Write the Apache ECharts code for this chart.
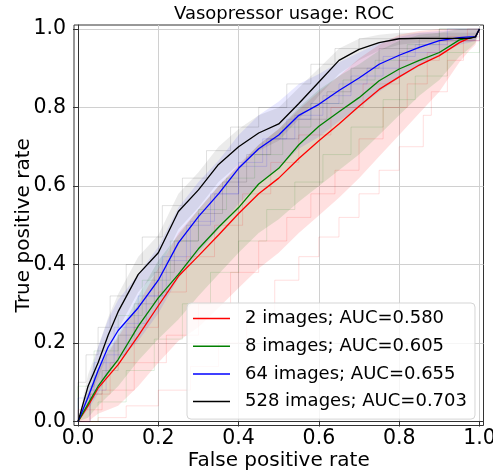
<!DOCTYPE html>
<html>
<head>
<meta charset="utf-8">
<script src="https://cdn.jsdelivr.net/npm/echarts@6/dist/echarts.min.js"></script>
<style>html,body{margin:0;padding:0;background:#fff}#c{width:493px;height:471px}</style>
</head>
<body>
<div id="c"></div>
<script>
// ---- data ----
const titleText = 'Vasopressor usage: ROC';
const xName = 'False positive rate';
const yName = 'True positive rate';
const tickValues = [0, 0.2, 0.4, 0.6, 0.8, 1.0];
const seriesNames = ['2 images; AUC=0.580', '8 images; AUC=0.605', '64 images; AUC=0.655', '528 images; AUC=0.703'];

const fpr = [0, 0.025, 0.05, 0.075, 0.1, 0.15, 0.2, 0.25, 0.3, 0.35, 0.4, 0.45, 0.5, 0.55, 0.6, 0.65, 0.7, 0.75, 0.8, 0.85, 0.9, 0.95, 0.975, 0.99, 1.0];

const tpr2   = [0, 0.04, 0.085, 0.115, 0.145, 0.218, 0.295, 0.37, 0.422, 0.475, 0.53, 0.58, 0.62, 0.67, 0.715, 0.758, 0.803, 0.846, 0.878, 0.908, 0.932, 0.965, 0.977, 0.98, 1.0];
const tpr8   = [0, 0.045, 0.09, 0.125, 0.158, 0.243, 0.315, 0.375, 0.44, 0.495, 0.545, 0.605, 0.645, 0.705, 0.752, 0.789, 0.825, 0.868, 0.898, 0.92, 0.94, 0.972, 0.977, 0.98, 1.0];
const tpr64  = [0, 0.062, 0.13, 0.19, 0.232, 0.29, 0.36, 0.455, 0.522, 0.58, 0.645, 0.695, 0.73, 0.78, 0.808, 0.843, 0.875, 0.91, 0.933, 0.953, 0.97, 0.978, 0.98, 0.98, 1.0];
const tpr528 = [0, 0.09, 0.15, 0.22, 0.28, 0.375, 0.43, 0.535, 0.59, 0.655, 0.70, 0.735, 0.758, 0.81, 0.865, 0.92, 0.948, 0.965, 0.975, 0.976, 0.976, 0.976, 0.976, 0.98, 1.0];

const low2   = [0, 0.0, 0.02, 0.03, 0.04, 0.09, 0.15, 0.205, 0.24, 0.29, 0.34, 0.39, 0.43, 0.48, 0.525, 0.57, 0.62, 0.675, 0.73, 0.785, 0.84, 0.915, 0.945, 0.96, 1.0];
const up2    = [0, 0.07, 0.13, 0.175, 0.215, 0.3, 0.39, 0.48, 0.54, 0.6, 0.655, 0.705, 0.745, 0.795, 0.84, 0.88, 0.925, 0.96, 0.985, 0.995, 1.0, 1.0, 1.0, 1.0, 1.0];
const low8   = [0, 0.01, 0.04, 0.065, 0.09, 0.155, 0.21, 0.26, 0.32, 0.375, 0.43, 0.48, 0.515, 0.56, 0.6, 0.64, 0.68, 0.73, 0.78, 0.83, 0.87, 0.93, 0.95, 0.965, 1.0];
const up8    = [0, 0.075, 0.135, 0.18, 0.22, 0.32, 0.41, 0.475, 0.54, 0.6, 0.65, 0.705, 0.745, 0.8, 0.845, 0.88, 0.91, 0.945, 0.97, 0.985, 0.99, 1.0, 1.0, 1.0, 1.0];
const low64  = [0, 0.03, 0.07, 0.12, 0.155, 0.205, 0.275, 0.365, 0.43, 0.49, 0.555, 0.605, 0.645, 0.695, 0.725, 0.765, 0.8, 0.84, 0.875, 0.905, 0.935, 0.96, 0.965, 0.97, 1.0];
const up64   = [0, 0.095, 0.19, 0.26, 0.31, 0.375, 0.445, 0.545, 0.61, 0.665, 0.73, 0.78, 0.815, 0.86, 0.885, 0.915, 0.94, 0.965, 0.98, 0.99, 0.995, 1.0, 1.0, 1.0, 1.0];
const low528 = [0, 0.06, 0.11, 0.175, 0.235, 0.33, 0.385, 0.49, 0.545, 0.61, 0.655, 0.69, 0.715, 0.77, 0.83, 0.885, 0.92, 0.945, 0.96, 0.965, 0.968, 0.968, 0.968, 0.97, 1.0];
const up528  = [0, 0.12, 0.19, 0.265, 0.325, 0.42, 0.475, 0.58, 0.635, 0.7, 0.745, 0.78, 0.8, 0.85, 0.9, 0.95, 0.975, 0.985, 0.99, 0.99, 0.99, 0.99, 0.99, 0.99, 1.0];

// a few individual (per-run) ROC step curves, [fpr, tpr]
const run2A = [[0,0],[0.05,0.01],[0.12,0.04],[0.2,0.08],[0.28,0.14],[0.35,0.2],[0.42,0.27],[0.49,0.36],[0.55,0.42],[0.6,0.47],[0.65,0.52],[0.7,0.58],[0.75,0.64],[0.8,0.7],[0.86,0.78],[0.88,0.84],[0.92,0.92],[0.96,0.97],[1,1]];
const run2B = [[0,0],[0.06,0.03],[0.14,0.08],[0.22,0.15],[0.3,0.22],[0.38,0.3],[0.45,0.38],[0.52,0.46],[0.58,0.52],[0.64,0.58],[0.7,0.64],[0.76,0.72],[0.82,0.8],[0.87,0.86],[0.92,0.94],[0.97,0.98],[1,1]];
const run2C = [[0,0],[0.03,0.07],[0.08,0.15],[0.14,0.24],[0.2,0.33],[0.27,0.42],[0.34,0.5],[0.41,0.58],[0.48,0.66],[0.55,0.73],[0.63,0.8],[0.71,0.86],[0.8,0.92],[0.9,0.97],[1,1]];
const run8A = [[0,0],[0.04,0.09],[0.1,0.18],[0.16,0.27],[0.23,0.36],[0.3,0.46],[0.37,0.54],[0.44,0.62],[0.51,0.68],[0.58,0.75],[0.66,0.81],[0.74,0.87],[0.82,0.92],[0.9,0.96],[1,1]];
const run8B = [[0,0],[0.05,0.05],[0.12,0.13],[0.19,0.21],[0.26,0.3],[0.33,0.38],[0.4,0.46],[0.47,0.54],[0.54,0.61],[0.61,0.68],[0.68,0.75],[0.76,0.82],[0.84,0.88],[0.92,0.94],[1,1]];
const run64A = [[0,0],[0.03,0.08],[0.07,0.17],[0.12,0.25],[0.17,0.32],[0.22,0.41],[0.28,0.51],[0.34,0.58],[0.4,0.66],[0.46,0.72],[0.52,0.77],[0.58,0.81],[0.65,0.86],[0.72,0.9],[0.8,0.94],[0.9,0.97],[1,1]];
const run64B = [[0,0],[0.04,0.06],[0.09,0.15],[0.15,0.24],[0.21,0.32],[0.27,0.42],[0.33,0.5],[0.4,0.58],[0.47,0.65],[0.54,0.72],[0.61,0.78],[0.68,0.83],[0.76,0.88],[0.84,0.93],[0.92,0.96],[1,1]];
const run528A = [[0,0],[0.02,0.1],[0.05,0.17],[0.08,0.24],[0.12,0.32],[0.16,0.4],[0.21,0.47],[0.26,0.55],[0.32,0.62],[0.38,0.69],[0.45,0.75],[0.52,0.8],[0.58,0.86],[0.64,0.91],[0.7,0.95],[0.78,0.975],[0.9,0.98],[1,1]];
const run528B = [[0,0],[0.03,0.07],[0.06,0.13],[0.1,0.22],[0.14,0.3],[0.19,0.38],[0.24,0.46],[0.3,0.53],[0.36,0.61],[0.42,0.68],[0.48,0.72],[0.55,0.77],[0.62,0.84],[0.68,0.9],[0.75,0.95],[0.85,0.975],[0.95,0.98],[1,1]];

// ---- styles ----
const lineColors = ['#ff0000', '#008000', '#0000ff', '#000000'];
const bandColors = ['rgba(255,0,0,0.12)', 'rgba(0,128,0,0.12)', 'rgba(0,0,255,0.09)', 'rgba(0,0,0,0.08)'];
const runColors = ['rgba(255,0,0,0.13)', 'rgba(0,128,0,0.12)', 'rgba(0,0,255,0.12)', 'rgba(0,0,0,0.12)'];
const FONT = 'DejaVu Sans';

function pairs(xs, ys) { return xs.map((x, i) => [x, ys[i]]); }

function band(lower, upper, color) {
  return {
    type: 'custom', coordinateSystem: 'cartesian2d', silent: true, z: 1,
    data: [[0, 0]],
    renderItem: function (params, api) {
      const pts = [];
      for (let i = 0; i < fpr.length; i++) pts.push(api.coord([fpr[i], upper[i]]));
      for (let i = fpr.length - 1; i >= 0; i--) pts.push(api.coord([fpr[i], lower[i]]));
      return { type: 'polygon', shape: { points: pts }, style: { fill: color, stroke: null } };
    }
  };
}
function run(data, color, step) {
  return { type: 'line', data: data, step: step, showSymbol: false, silent: true, z: 2,
    lineStyle: { color: color, width: 1 } };
}
function meanLine(name, ys, color) {
  return { name: name, type: 'line', data: pairs(fpr, ys), showSymbol: false, z: 3,
    color: color, lineStyle: { color: color, width: 1.3 } };
}

const chart = echarts.init(document.getElementById('c'), null, { renderer: 'canvas' });
const axisCommon = {
  type: 'value', min: -0.01, max: 1.01,
  nameLocation: 'middle', nameMoveOverlap: false,
  nameTextStyle: { fontFamily: FONT, fontSize: 20, color: '#000' },
  axisLine: { show: true, lineStyle: { color: '#333', width: 1 } },
  axisTick: { show: true, inside: false, length: 5, customValues: tickValues, lineStyle: { color: '#333' } },
  axisLabel: { customValues: tickValues, fontFamily: FONT, fontSize: 20.5, color: '#000',
    formatter: v => v.toFixed(1) },
  splitLine: { show: true, lineStyle: { color: '#d0d0d0', width: 1 } }
};
chart.setOption({
  animation: false,
  backgroundColor: '#fff',
  title: { text: titleText, left: 279, top: 0, textAlign: 'center',
    textStyle: { fontFamily: FONT, fontSize: 18, fontWeight: 'normal', color: '#000' } },
  grid: { left: 74, right: 9.5, top: 25, bottom: 45.5, show: true, borderColor: '#333', borderWidth: 1,
    backgroundColor: 'transparent', containLabel: false, outerBoundsMode: 'none' },
  xAxis: Object.assign({}, axisCommon, { name: xName, nameGap: 25,
    axisLabel: Object.assign({}, axisCommon.axisLabel, { margin: 3 }) }),
  yAxis: Object.assign({}, axisCommon, { name: yName, nameGap: 40,
    axisLabel: Object.assign({}, axisCommon.axisLabel, { margin: 8 }) }),
  legend: {
    data: seriesNames, orient: 'vertical', left: 187, top: 303,
    icon: 'rect', itemWidth: 37, itemHeight: 1.5, itemGap: 6.7,
    padding: [5, 8, 7, 6],
    backgroundColor: 'rgba(255,255,255,0.8)', borderColor: '#d5d5d5', borderWidth: 1, borderRadius: 4,
    textStyle: { fontFamily: FONT, fontSize: 18, color: '#000', lineHeight: 21, padding: [0, 0, 0, 10] },
    selectedMode: false
  },
  series: [
    band(low2, up2, bandColors[0]),
    run(run2A, runColors[0], 'end'), run(run2B, runColors[0], 'start'), run(run2C, runColors[0], 'end'),
    meanLine(seriesNames[0], tpr2, lineColors[0]),
    band(low8, up8, bandColors[1]),
    run(run8A, runColors[1], 'start'), run(run8B, runColors[1], 'end'),
    meanLine(seriesNames[1], tpr8, lineColors[1]),
    band(low64, up64, bandColors[2]),
    run(run64A, runColors[2], 'end'), run(run64B, runColors[2], 'start'),
    meanLine(seriesNames[2], tpr64, lineColors[2]),
    band(low528, up528, bandColors[3]),
    run(run528A, runColors[3], 'start'), run(run528B, runColors[3], 'end'),
    meanLine(seriesNames[3], tpr528, lineColors[3])
  ]
});
</script>
</body>
</html>
